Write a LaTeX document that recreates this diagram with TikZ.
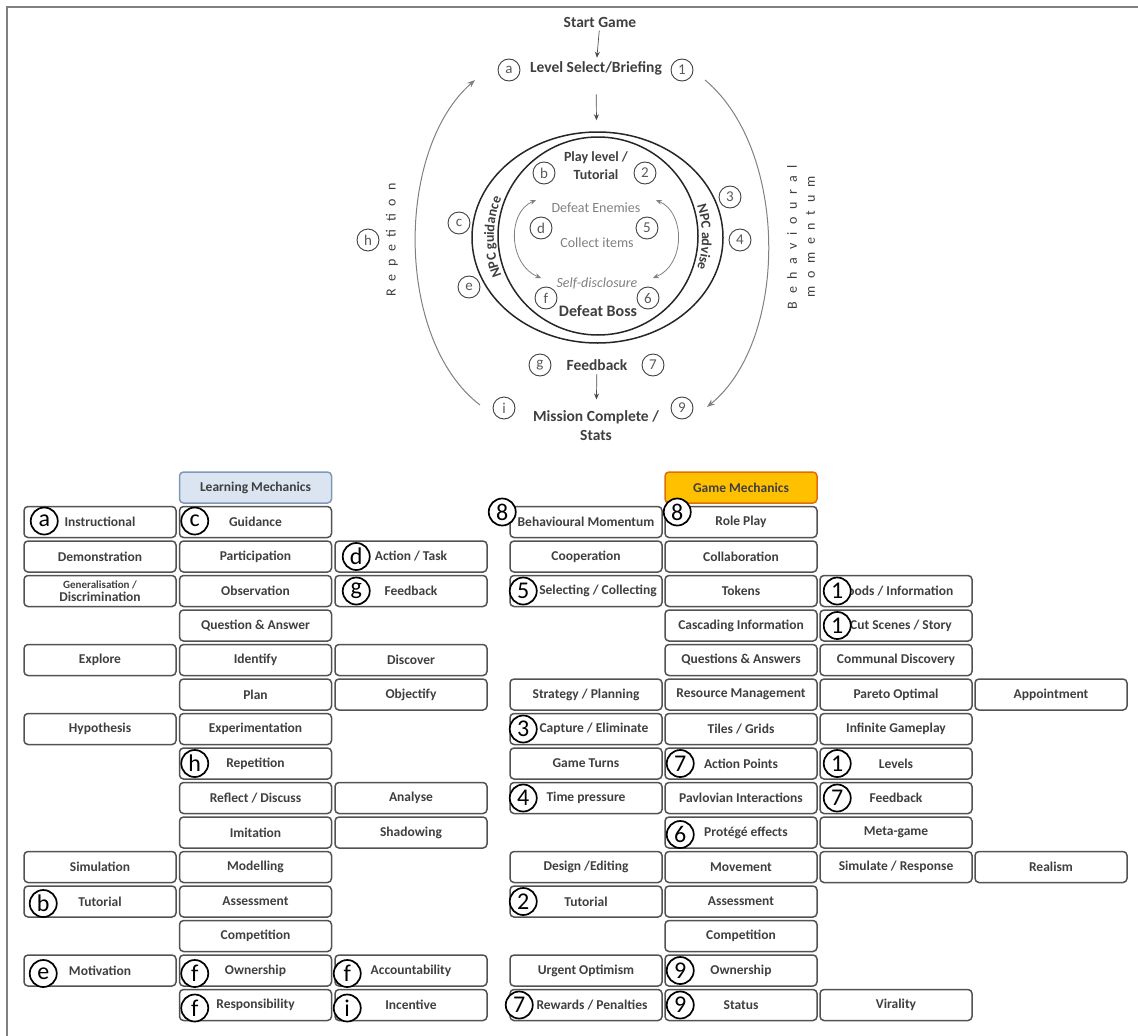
\documentclass[tikz,border=0pt]{standalone}
\usepackage{fontspec}
\setmainfont{Carlito}
\usetikzlibrary{arrows.meta,shapes.geometric,decorations.text}

\definecolor{lmfill}{HTML}{DBE5F1}
\definecolor{lmdraw}{HTML}{8197B8}
\definecolor{gmfill}{HTML}{FFC000}
\definecolor{gmdraw}{HTML}{E36C09}
\definecolor{inkgray}{HTML}{3F3F3F}
\definecolor{midgray}{HTML}{808080}

\begin{document}
\begin{tikzpicture}[x=1pt, y=1pt,
 mbox/.style={draw=black!68, line width=1.5pt, rounded corners=4pt, minimum width=152pt, minimum height=31pt, inner sep=1pt, align=center, text=inkgray, font=\bfseries\fontsize{13.5}{13.5}\selectfont},
 badge/.style={draw=black, fill=white, line width=1.7pt, circle, minimum size=27pt, inner sep=0pt, font=\fontsize{24}{24}\selectfont},
 tag/.style={draw=black!75, line width=0.9pt, circle, minimum size=22pt, inner sep=0pt, text=black!65, font=\fontsize{15}{15}\selectfont},
 title/.style={text=inkgray, align=center, font=\bfseries\fontsize{15.5}{19}\selectfont},
 event/.style={text=midgray, font=\fontsize{14}{16}\selectfont},
 spaced/.style={rotate=90, text=inkgray, align=center, font=\fontsize{14}{18}\selectfont\addfontfeature{LetterSpace=55}},
 ring/.style={draw=black!85, line width=1.5pt, ellipse, inner sep=0pt},
 flow/.style={-{Stealth[length=6pt,width=5pt]}, black!70, line width=0.7pt},
 swing/.style={{Stealth[length=6pt,width=5pt]}-{Stealth[length=6pt,width=5pt]}, midgray, line width=0.8pt},
 bigarc/.style={-{Stealth[length=8pt,width=6pt]}, midgray, line width=1pt}]
\useasboundingbox (0,0) rectangle (1138,-1036);
\draw[midgray, line width=2pt] (7,-1036) -- (7,-7) -- (1138,-7);

% game loop
\node[title] (start) at (600,-22) {Start Game};
\node[title] (level) at (596,-68) {Level Select/Briefing};
\node[tag] (ta) at (509,-70) {a};
\node[tag] (t1) at (682,-70) {1};
\draw[flow] (start) -- (level);

\node[ring, minimum width=251pt, minimum height=211pt] (ringout) at (597.5,-237.5) {};
\node[ring, minimum width=200pt, minimum height=198pt] (ringin) at (598,-236) {};
\draw[flow, shorten <=16pt, shorten >=11pt] (level) -- (ringout);

\path[decorate, decoration={text along path, text align=center, text color=inkgray,
 text={|\bfseries\fontsize{14}{14}\selectfont|NPC guidance}}]
 (507.9,-288.5) arc[start angle=210, end angle=150, x radius=104, y radius=103];
\path[decorate, decoration={text along path, text align=center, text color=inkgray,
 text={|\bfseries\fontsize{14}{14}\selectfont|NPC advise}}]
 (688.1,-185.5) arc[start angle=30, end angle=-30, x radius=104, y radius=103];

\node[text=inkgray, align=center, font=\bfseries\fontsize{14}{18}\selectfont] (play) at (596,-166) {Play level /\\Tutorial};
\node[tag] (tb) at (544,-173) {b};
\node[tag] (t2) at (645,-173) {2};

\node[event] (enemies) at (596,-208) {Defeat Enemies};
\node[event] (collect) at (597,-243) {Collect items};
\node[event, font=\itshape\fontsize{14}{16}\selectfont] (disclose) at (597,-283) {Self-disclosure};
\node[title, font=\bfseries\fontsize{16}{19}\selectfont] (boss) at (598,-311) {Defeat Boss};
\node[tag] (td) at (541,-228) {d};
\node[tag] (t5) at (647,-228) {5};
\node[tag] (tf) at (546,-298) {f};
\node[tag] (t6) at (648,-298) {6};
\draw[swing] ([shift={(-12,8)}]enemies.west) .. controls +(-30,-13) and +(-32,13) .. ([shift={(-12,5)}]disclose.west);
\draw[swing] ([shift={(12,8)}]enemies.east) .. controls +(30,-13) and +(32,13) .. ([shift={(12,5)}]disclose.east);

\node[tag] (tc) at (459,-223) {c};
\node[tag] (te) at (469,-287) {e};
\node[tag] (t3) at (730,-197) {3};
\node[tag] (t4) at (740,-240) {4};
\node[tag] (th) at (368,-240) {h};
\node[spaced] (rep) at (392,-240) {Repetition};
\node[spaced] (bm) at (801,-237) {Behavioural\\momentum};

\node[title] (fb) at (597,-365) {Feedback};
\node[tag] (tg) at (540,-365) {g};
\node[tag] (t7) at (653,-365) {7};
\node[title] (mission) at (596,-426) {Mission Complete /\\Stats};
\node[tag] (ti) at (504,-408) {i};
\node[tag] (t9) at (682,-408) {9};
\draw[flow, shorten >=8pt] (fb) -- (mission);

\coordinate (repfrom) at (480,-405);
\coordinate (repto) at (475,-80);
\draw[bigarc] (repfrom) .. controls (395,-340) and (395,-150) .. (repto);
\coordinate (bmfrom) at (705,-80);
\coordinate (bmto) at (707,-407);
\draw[bigarc] (bmfrom) .. controls (789,-150) and (789,-340) .. (bmto);

% learning mechanics
\node[mbox, fill=lmfill, draw=lmdraw] (lmhead) at (255.5,-487.5) {Learning Mechanics};
\foreach \col/\row/\txt in {0/1/Instructional, 1/1/Guidance,
 0/2/Demonstration, 1/2/Participation, 2/2/{Action / Task},
 0/3/{\fontsize{11}{11.5}\selectfont Generalisation /\\Discrimination}, 1/3/Observation, 2/3/Feedback,
 1/4/{Question \& Answer},
 0/5/Explore, 1/5/Identify, 2/5/Discover,
 1/6/Plan, 2/6/Objectify,
 0/7/Hypothesis, 1/7/Experimentation,
 1/8/Repetition,
 1/9/{Reflect / Discuss}, 2/9/Analyse,
 1/10/Imitation, 2/10/Shadowing,
 0/11/Simulation, 1/11/Modelling,
 0/12/Tutorial, 1/12/Assessment,
 1/13/Competition,
 0/14/Motivation, 1/14/Ownership, 2/14/Accountability,
 1/15/Responsibility, 2/15/Incentive}
 \node[mbox] (L\row-\col) at ({100+155.5*\col},{-522-34.5*(\row-1)}) {\txt};
\foreach \cell/\lab/\dx/\dy in {L1-0/a/21/1, L1-1/c/16/1, L2-2/d/22/0, L3-2/g/22/0,
 L8-1/h/16/0, L12-0/b/20/-2, L14-0/e/20/-3, L14-1/f/16/-3, L14-2/f/13/-3,
 L15-1/f/16/-3, L15-2/i/13/-3}
 \node[badge] (b\cell) at ([shift={(\dx,\dy)}]\cell.west) {\lab};

% game mechanics
\node[mbox, fill=gmfill, draw=gmdraw] (gmhead) at (741,-487.5) {Game Mechanics};
\foreach \col/\row/\txt in {0/1/{Behavioural Momentum}, 1/1/{Role Play},
 0/2/Cooperation, 1/2/Collaboration,
 0/3/{\hspace*{24pt}Selecting / Collecting}, 1/3/Tokens, 2/3/{Goods / Information},
 1/4/{Cascading Information}, 2/4/{\hspace*{10pt}Cut Scenes / Story},
 1/5/{Questions \& Answers}, 2/5/{Communal Discovery},
 0/6/{Strategy / Planning}, 1/6/{Resource Management}, 2/6/{Pareto Optimal}, 3/6/Appointment,
 0/7/{\hspace*{16pt}Capture / Eliminate}, 1/7/{Tiles / Grids}, 2/7/{Infinite Gameplay},
 0/8/{Game Turns}, 1/8/{Action Points}, 2/8/Levels,
 0/9/{Time pressure}, 1/9/{Pavlovian Interactions}, 2/9/Feedback,
 1/10/{\hspace*{10pt}Protégé effects}, 2/10/Meta-game,
 0/11/{Design /Editing}, 1/11/Movement, 2/11/{Simulate / Response}, 3/11/Realism,
 0/12/Tutorial, 1/12/Assessment,
 1/13/Competition,
 0/14/{Urgent Optimism}, 1/14/Ownership,
 0/15/{\hspace*{12pt}Rewards / Penalties}, 1/15/Status, 2/15/Virality}
 \node[mbox] (G\row-\col) at ({586+155*\col},{-522-34.5*(\row-1)}) {\txt};
\foreach \cell/\lab/\dx/\dy in {G1-0/8/-7/10, G1-1/8/13/10, G3-0/5/14/0, G3-2/1/18/0,
 G4-2/1/18/0, G7-0/3/14/0, G8-1/7/16/0, G8-2/1/18/0, G9-0/4/14/0, G9-2/7/18/0,
 G10-1/6/16/-2, G12-0/2/14/0, G14-1/9/16/0, G15-0/7/10/0, G15-1/9/16/0}
 \node[badge] (b\cell) at ([shift={(\dx,\dy)}]\cell.west) {\lab};
\end{tikzpicture}
\end{document}
